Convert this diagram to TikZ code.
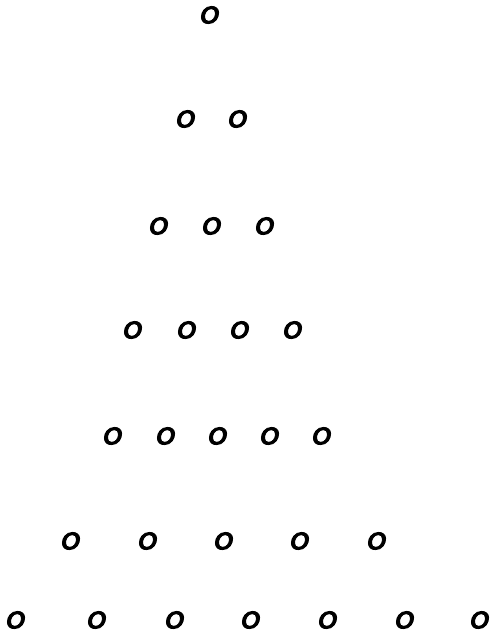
\documentclass[tikz,border=0pt]{standalone}
\usepackage{fontspec}
\newfontfamily\ofont[FakeBold=3,FakeStretch=1.1]{DejaVu Sans Oblique}
\begin{document}
\begin{tikzpicture}[x=1pt,y=-1pt,
  dot/.style={inner sep=0pt,font=\ofont\fontsize{30}{30}\selectfont}]
\useasboundingbox (0,0) rectangle (493,643);
\node[dot] (r1a) at (210,15) {o};
\node[dot] (r2a) at (186,119) {o};
\node[dot] (r2b) at (238,119) {o};
\node[dot] (r3a) at (159,226) {o};
\node[dot] (r3b) at (212,226) {o};
\node[dot] (r3c) at (265,226) {o};
\node[dot] (r4a) at (133,330) {o};
\node[dot] (r4b) at (187,330) {o};
\node[dot] (r4c) at (240,330) {o};
\node[dot] (r4d) at (293,330) {o};
\node[dot] (r5a) at (113,436) {o};
\node[dot] (r5b) at (166,436) {o};
\node[dot] (r5c) at (218,436) {o};
\node[dot] (r5d) at (270,436) {o};
\node[dot] (r5e) at (322,436) {o};
\node[dot] (r6a) at (71,541) {o};
\node[dot] (r6b) at (148,541) {o};
\node[dot] (r6c) at (224,541) {o};
\node[dot] (r6d) at (300,541) {o};
\node[dot] (r6e) at (377,541) {o};
\node[dot] (r7a) at (16,620) {o};
\node[dot] (r7b) at (97,620) {o};
\node[dot] (r7c) at (175,620) {o};
\node[dot] (r7d) at (251,620) {o};
\node[dot] (r7e) at (328,620) {o};
\node[dot] (r7f) at (405,620) {o};
\node[dot] (r7g) at (480,620) {o};
\end{tikzpicture}
\end{document}
